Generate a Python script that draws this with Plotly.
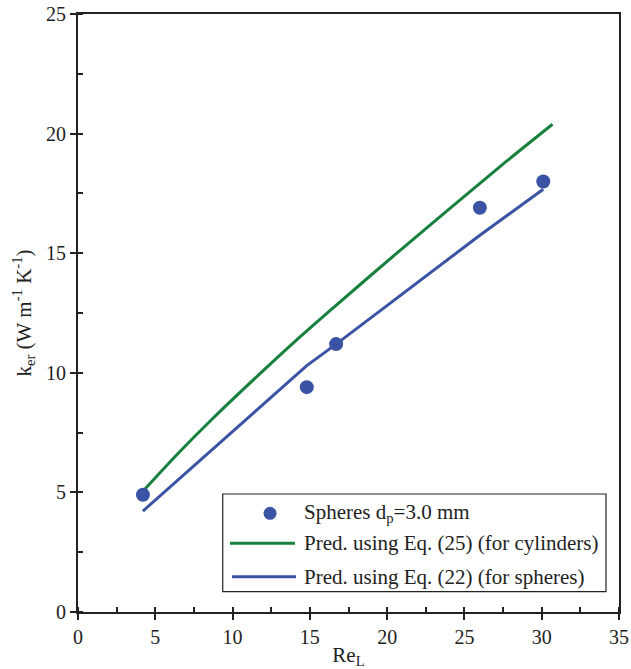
import plotly.graph_objects as go

# Data
exp_re = [4.2, 14.8, 16.7, 26.0, 30.1]
exp_ker = [4.9, 9.4, 11.2, 16.9, 18.0]

cyl_re = [4.2, 6.5, 8.7, 12.0, 14.4, 16.3, 20.8, 27.3, 30.7]
cyl_ker = [5.05, 6.65, 8.08, 10.1, 11.52, 12.6, 15.1, 18.62, 20.39]

sph_re = [4.2, 14.8, 16.7, 26.0, 30.1]
sph_ker = [4.22, 10.3, 11.2, 15.75, 17.67]

x_ticks = [0, 5, 10, 15, 20, 25, 30, 35]
y_ticks = [0, 5, 10, 15, 20, 25]

BLUE = "#3a53a4"
GREEN = "#17803d"
AX = "#222222"
FONT = "Liberation Serif"

fig = go.Figure()
fig.add_trace(go.Scatter(x=cyl_re, y=cyl_ker, mode="lines",
                         line=dict(color=GREEN, width=3, shape="spline", smoothing=0.8),
                         name="Pred. using Eq. (25) (for cylinders)", showlegend=False))
fig.add_trace(go.Scatter(x=sph_re, y=sph_ker, mode="lines",
                         line=dict(color=BLUE, width=3),
                         name="Pred. using Eq. (22) (for spheres)", showlegend=False))
fig.add_trace(go.Scatter(x=exp_re, y=exp_ker, mode="markers",
                         marker=dict(color=BLUE, size=14),
                         name="Spheres d<sub>p</sub>=3.0 mm", showlegend=False))
# invisible trace to establish overlay axes (inside major ticks)
fig.add_trace(go.Scatter(x=[None], y=[None], xaxis="x2", yaxis="y2",
                         showlegend=False, hoverinfo="skip"))

common = dict(showgrid=False, zeroline=False, linecolor=AX, linewidth=2,
              automargin=False,
              tickfont=dict(family=FONT, size=20, color=AX))

fig.update_layout(
    width=631, height=669,
    margin=dict(l=78, r=12, t=14, b=57),
    plot_bgcolor="white", paper_bgcolor="white",
    font=dict(family=FONT, size=20, color=AX),
    xaxis=dict(range=[0, 35], tickvals=x_ticks, ticks="outside", ticklen=6,
               tickwidth=1.5, tickcolor=AX, showline=True, mirror=True,
               minor=dict(dtick=2.5, ticks="inside", ticklen=5, tickwidth=1.5, tickcolor=AX),
               title=dict(text="Re<sub>L</sub>", font=dict(family=FONT, size=21, color=AX), standoff=3),
               **common),
    yaxis=dict(range=[0, 25], tickvals=y_ticks, ticks="outside", ticklen=6,
               tickwidth=1.5, tickcolor=AX, showline=True, mirror=True,
               minor=dict(dtick=2.5, ticks="inside", ticklen=5, tickwidth=1.5, tickcolor=AX),
               title=dict(text="k<sub>er</sub> (W m<sup>-1</sup> K<sup>-1</sup>)",
                          font=dict(family=FONT, size=21, color=AX), standoff=9),
               **common),
    xaxis2=dict(range=[0, 35], overlaying="x", side="bottom", tickvals=x_ticks,
                ticks="inside", ticklen=5, tickwidth=1.5, tickcolor=AX, automargin=False,
                showticklabels=False, showgrid=False, zeroline=False, showline=False),
    yaxis2=dict(range=[0, 25], overlaying="y", side="left", tickvals=y_ticks,
                ticks="inside", ticklen=5, tickwidth=1.5, tickcolor=AX, automargin=False,
                showticklabels=False, showgrid=False, zeroline=False, showline=False),
)

# Manual legend box (paper coordinates)
fig.add_shape(type="rect", xref="paper", yref="paper", x0=0.2675, x1=0.976,
              y0=0.034, y1=0.1973, line=dict(color=AX, width=1.2), fillcolor="white",
              layer="above")
fig.add_shape(type="circle", xref="paper", yref="paper",
              x0=0.355 - 0.012, x1=0.355 + 0.012, y0=0.165 - 0.0109, y1=0.165 + 0.0109,
              fillcolor=BLUE, line=dict(width=0), layer="above")
fig.add_shape(type="line", xref="paper", yref="paper", x0=0.281, x1=0.401,
              y0=0.1149, y1=0.1149, line=dict(color=GREEN, width=3), layer="above")
fig.add_shape(type="line", xref="paper", yref="paper", x0=0.2847, x1=0.403,
              y0=0.059, y1=0.059, line=dict(color=BLUE, width=3), layer="above")

legend_texts = ["Spheres d<sub>p</sub>=3.0 mm",
                "Pred. using Eq. (25) (for cylinders)",
                "Pred. using Eq. (22) (for spheres)"]
legend_y = [0.165, 0.1149, 0.059]
for t, yy in zip(legend_texts, legend_y):
    fig.add_annotation(text=t, xref="paper", yref="paper", x=0.4135, y=yy,
                       xanchor="left", yanchor="middle", showarrow=False,
                       font=dict(family=FONT, size=21, color=AX))

fig.write_html("out.html")
